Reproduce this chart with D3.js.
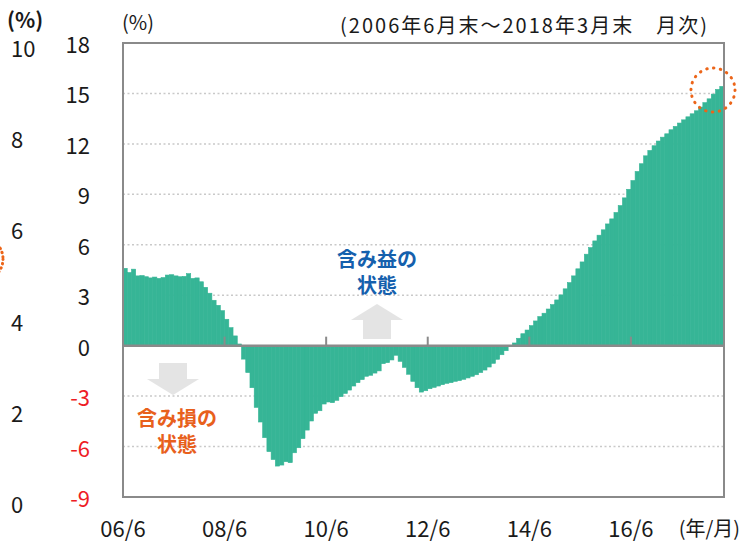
<!DOCTYPE html>
<html>
<head>
<meta charset="utf-8">
<script src="https://cdn.jsdelivr.net/npm/d3@7"></script>
<style>
  body { margin: 0; background: #fff; }
  svg text { font-family: "Noto Sans CJK JP", "Noto Sans", sans-serif; }
</style>
</head>
<body>
<svg id="chart" width="741" height="545"></svg>
<script>
// monthly values, 2006/6 .. 2018/3 (142 months)
var values = [
  4.6, 4.35, 4.55, 4.15, 4.17, 4.1, 4.03, 4.08, 4.0, 4.05, 4.2, 4.22,
  4.15, 4.1, 4.12, 4.28, 4.0, 4.03, 3.8, 3.47, 3.12, 2.7, 2.4, 2.08,
  1.57, 1.07, 0.58, 0.1, -0.8, -1.6, -2.5, -3.67, -4.54, -5.47, -6.3, -6.77,
  -7.16, -7.1, -6.9, -6.96, -6.37, -6.07, -5.53, -5.02, -4.48, -4.02, -3.87, -3.47,
  -3.35, -3.39, -3.25, -3.03, -2.84, -2.64, -2.4, -2.2, -2.02, -1.82, -1.76, -1.63,
  -1.5, -1.07, -1.01, -0.85, -0.57, -0.93, -1.29, -1.7, -2.12, -2.5, -2.76, -2.68,
  -2.56, -2.48, -2.4, -2.32, -2.24, -2.2, -2.12, -2.08, -2.0, -1.92, -1.82, -1.73,
  -1.6, -1.45, -1.27, -1.05, -0.81, -0.54, -0.3, -0.05, 0.16, 0.44, 0.71, 0.93,
  1.19, 1.47, 1.73, 1.93, 2.18, 2.44, 2.72, 3.02, 3.38, 3.75, 4.15, 4.57,
  4.98, 5.44, 5.83, 6.23, 6.57, 6.89, 7.24, 7.54, 7.92, 8.33, 8.79, 9.3,
  9.82, 10.36, 10.82, 11.29, 11.61, 11.89, 12.17, 12.4, 12.6, 12.84, 13.04, 13.24,
  13.43, 13.61, 13.79, 13.97, 14.19, 14.45, 14.68, 14.96, 15.24, 15.42
];
var startYear = 2006, startMonth = 6;
var yTicks = [-9, -6, -3, 0, 3, 6, 9, 12, 15, 18];
var xTickLabels = ["06/6", "08/6", "10/6", "12/6", "14/6", "16/6"];
var leftTicks = [0, 2, 4, 6, 8, 10];
var title = "(2006年6月末～2018年3月末　月次)";

var months = values.map(function(v, i){
  var m = startMonth - 1 + i;
  return (startYear + Math.floor(m / 12)) + "-" + (m % 12 + 1);
});
var data = values.map(function(v, i){ return {month: months[i], value: v}; });

var svg = d3.select("#chart");
var pl = 123, pr = 724, pt = 43, pb = 497;

var x = d3.scaleBand().domain(months).range([pl, pr]).padding(0);
var y = d3.scaleLinear().domain([-9, 18]).range([pb, pt]);
var y2 = d3.scaleLinear().domain([0, 10]).range([503, 47]);

// grid
svg.append("g").selectAll("line").data(yTicks.filter(function(d){ return d != 0 && d != 18 && d != -9; }))
  .enter().append("line")
  .attr("x1", pl).attr("x2", pr)
  .attr("y1", function(d){ return y(d); }).attr("y2", function(d){ return y(d); })
  .attr("stroke", "#c9c9c9").attr("stroke-width", 1.5).attr("stroke-dasharray", "2,2.5");

// bars
svg.append("g").selectAll("rect").data(data).enter().append("rect")
  .attr("x", function(d){ return x(d.month); })
  .attr("width", x.bandwidth())
  .attr("y", function(d){ return y(Math.max(0, d.value)); })
  .attr("height", function(d){ return Math.abs(y(d.value) - y(0)); })
  .attr("fill", "#36b596").attr("stroke", "#36b596").attr("stroke-width", 0.6);

// zero line + ticks
svg.append("line").attr("x1", pl).attr("x2", pr).attr("y1", y(0)).attr("y2", y(0))
  .attr("stroke", "#8a8a8a").attr("stroke-width", 2.5);
var tickIdx = xTickLabels.map(function(d, i){ return months[i * 24]; });
svg.append("g").selectAll("line").data(tickIdx.slice(1)).enter().append("line")
  .attr("x1", function(d){ return x(d); }).attr("x2", function(d){ return x(d); })
  .attr("y1", y(0)).attr("y2", y(0) - 9)
  .attr("stroke", "#8a8a8a").attr("stroke-width", 2);

// frame
svg.append("rect").attr("x", pl).attr("y", pt).attr("width", pr - pl).attr("height", pb - pt)
  .attr("fill", "none").attr("stroke", "#8a8a8a").attr("stroke-width", 2);

// y labels
svg.append("g").selectAll("text").data(yTicks).enter().append("text")
  .attr("x", 90).attr("y", function(d){ return y(d); })
  .attr("text-anchor", "end").attr("dominant-baseline", "central")
  .attr("font-size", 22)
  .attr("fill", function(d){ return d < 0 ? "#ee1c25" : "#1a1a1a"; })
  .text(function(d){ return d; });
svg.append("text").attr("x", 122).attr("y", 21).attr("dominant-baseline", "central")
  .attr("font-size", 20).attr("fill", "#1a1a1a").text("(%)");

// left secondary axis remnant
svg.append("g").selectAll("text").data(leftTicks).enter().append("text")
  .attr("x", 11).attr("y", function(d){ return y2(d); })
  .attr("dominant-baseline", "central").attr("font-size", 22).attr("fill", "#1a1a1a")
  .text(function(d){ return d; });
svg.append("text").attr("x", 7).attr("y", 19).attr("dominant-baseline", "central")
  .attr("font-size", 21).attr("font-weight", "bold").attr("fill", "#1a1a1a").text("(%)");

// x labels
svg.append("g").selectAll("text").data(xTickLabels).enter().append("text")
  .attr("x", function(d, i){ return x(tickIdx[i]); }).attr("y", 527)
  .attr("text-anchor", "middle").attr("dominant-baseline", "central")
  .attr("font-size", 22).attr("fill", "#1a1a1a").text(function(d){ return d; });
svg.append("text").attr("x", 740).attr("y", 527).attr("text-anchor", "end")
  .attr("dominant-baseline", "central").attr("font-size", 20).attr("fill", "#1a1a1a").text("(年/月)");

// title
svg.append("text").attr("x", 340).attr("y", 24).attr("dominant-baseline", "central")
  .attr("font-size", 20).attr("fill", "#1a1a1a")
  .attr("textLength", 367).attr("lengthAdjust", "spacing").text(title);

// arrows
function arrow(cx, y0, y1, up){
  var dir = up ? -1 : 1, headLen = 16;
  var yh = y1 - dir * headLen;
  var pts = [[cx - 14, y0], [cx + 14, y0], [cx + 14, yh], [cx + 26, yh], [cx, y1], [cx - 26, yh], [cx - 14, yh]];
  svg.append("path").attr("d", d3.line()(pts) + "Z").attr("fill", "#e4e4e4");
}
arrow(377, 339, 304, true);
arrow(173, 363, 395, false);

// annotations
function note(cx, yy, lines, color){
  svg.append("g").selectAll("text").data(lines).enter().append("text")
    .attr("x", cx).attr("y", function(d, i){ return yy + i * 26; })
    .attr("text-anchor", "middle").attr("dominant-baseline", "central")
    .attr("font-size", 20).attr("font-weight", "bold").attr("fill", color)
    .text(function(d){ return d; });
}
note(377, 258, ["含み益の", "状態"], "#1560ad");
note(177, 417, ["含み損の", "状態"], "#e8601c");

// dotted circles
svg.append("circle").attr("cx", 713).attr("cy", 90).attr("r", 22)
  .attr("fill", "none").attr("stroke", "#ec6519").attr("stroke-width", 3)
  .attr("stroke-linecap", "round").attr("stroke-dasharray", "0.5,6.4");
svg.append("circle").attr("cx", -19).attr("cy", 259).attr("r", 22)
  .attr("fill", "none").attr("stroke", "#ec6519").attr("stroke-width", 3)
  .attr("stroke-linecap", "round").attr("stroke-dasharray", "0.5,4");
</script>
</body>
</html>
